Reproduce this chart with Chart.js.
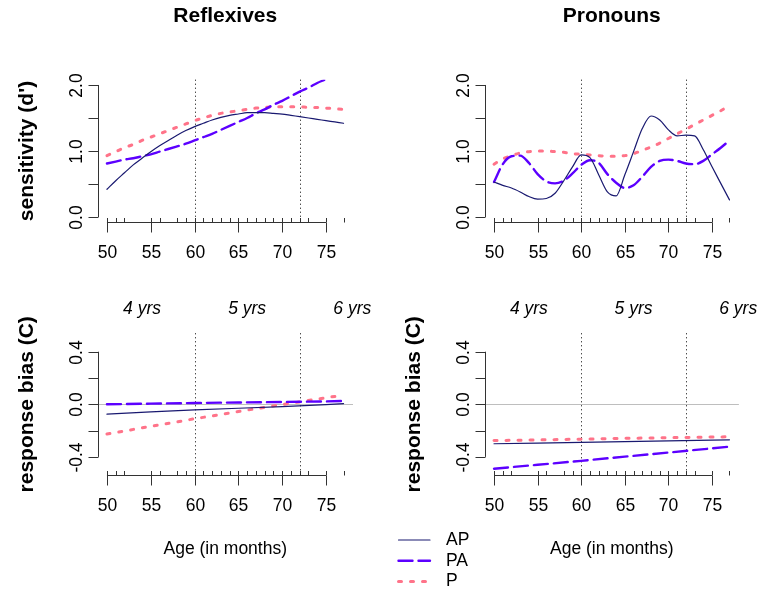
<!DOCTYPE html>
<html>
<head>
<meta charset="utf-8">
<script src="https://cdn.jsdelivr.net/npm/chart.js@4"></script>
<style>
    html, body { margin: 0; padding: 0; background: #fff; }
    #wrap { position: relative; width: 757px; height: 592px; }
    #wrap canvas { position: absolute; left: 0; top: 0; width: 757px; height: 592px; }
</style>
</head>
<body>
<div id="wrap">
    <canvas id="reflSens" width="757" height="592"></canvas>
    <canvas id="pronSens" width="757" height="592"></canvas>
    <canvas id="reflBias" width="757" height="592"></canvas>
    <canvas id="pronBias" width="757" height="592"></canvas>
</div>
<script>
// ==================== 数据 ====================

// 月龄（敏感度曲线）
const ages = [50, 51, 52, 53, 54, 55, 56, 57, 58, 59, 60, 61, 62, 63,
              64, 65, 66, 67, 68, 69, 70, 71, 72, 73, 74, 75, 76, 77];

// Reflexives - sensitivity (d')
const reflSensAP = [0.42, 0.55, 0.67, 0.79, 0.89, 0.99, 1.08, 1.16, 1.24, 1.31, 1.37, 1.42, 1.47, 1.51,
                    1.54, 1.56, 1.58, 1.58, 1.58, 1.57, 1.56, 1.54, 1.52, 1.50, 1.48, 1.46, 1.44, 1.42];
const reflSensPA = [0.81, 0.84, 0.87, 0.89, 0.92, 0.95, 0.99, 1.03, 1.07, 1.11, 1.16, 1.21, 1.26, 1.32,
                    1.38, 1.44, 1.50, 1.57, 1.63, 1.70, 1.76, 1.83, 1.90, 1.96, 2.03, 2.09, 2.16, 2.23];
const reflSensP  = [0.93, 0.99, 1.05, 1.10, 1.16, 1.21, 1.26, 1.31, 1.36, 1.41, 1.46, 1.50, 1.54, 1.57,
                    1.59, 1.61, 1.63, 1.65, 1.66, 1.67, 1.67, 1.67, 1.67, 1.66, 1.66, 1.65, 1.64, 1.63];

// Pronouns - sensitivity (d')
const pronSensAP = [0.53, 0.48, 0.44, 0.38, 0.31, 0.27, 0.28, 0.36, 0.55, 0.76, 0.94, 0.90, 0.64, 0.38,
                    0.32, 0.64, 0.99, 1.34, 1.53, 1.47, 1.32, 1.23, 1.24, 1.23, 1.02, 0.76, 0.51, 0.26];
const pronSensPA = [0.53, 0.80, 0.92, 0.93, 0.82, 0.65, 0.54, 0.51, 0.55, 0.66, 0.79, 0.86, 0.82, 0.65,
                    0.52, 0.44, 0.48, 0.61, 0.76, 0.85, 0.87, 0.85, 0.81, 0.80, 0.85, 0.95, 1.05, 1.16];
const pronSensP  = [0.80, 0.88, 0.93, 0.97, 0.99, 1.00, 1.00, 0.99, 0.98, 0.96, 0.95, 0.94, 0.93, 0.92,
                    0.92, 0.93, 0.96, 1.01, 1.06, 1.12, 1.19, 1.26, 1.33, 1.40, 1.47, 1.54, 1.61, 1.69];

// 月龄（反应偏差直线）
const biasAges = [50, 55, 60, 65, 70, 75, 77];

// Reflexives - response bias (C)
const reflBiasAP = [-0.075, -0.058, -0.043, -0.030, -0.017, -0.003, 0.005];
const reflBiasPA = [0.000, 0.005, 0.010, 0.014, 0.018, 0.022, 0.025];
const reflBiasP  = [-0.226, -0.168, -0.110, -0.055, -0.002, 0.050, 0.070];

// Pronouns - response bias (C)
const pronBiasAP = [-0.300, -0.295, -0.290, -0.284, -0.278, -0.272, -0.270];
const pronBiasPA = [-0.490, -0.460, -0.430, -0.398, -0.367, -0.335, -0.322];
const pronBiasP  = [-0.276, -0.271, -0.265, -0.259, -0.254, -0.249, -0.247];

// 被试月龄（底部 rug 刻度）
const rugAges = [50, 51, 52, 55, 56, 58, 59, 60, 61, 62, 63, 64, 65, 66, 67, 68, 69, 70, 71, 72, 73, 75, 77];

// 坐标刻度
const xTicks = [50, 55, 60, 65, 70, 75];
const sensTicks = [0, 0.5, 1, 1.5, 2];
const sensTickLabels = ['0.0', '', '1.0', '', '2.0'];
const biasTicks = [-0.4, -0.2, 0, 0.2, 0.4];
const biasTickLabels = ['-0.4', '', '0.0', '', '0.4'];

// 年龄分界线与标注
const cutoffs = [60, 72];
const yearMarks = [54, 66, 78];
const yearLabels = ['4 yrs', '5 yrs', '6 yrs'];

const seriesNames = ['AP', 'PA', 'P'];

// ==================== 样式 ====================

const W = 757, H = 592;
const FONT = '"Liberation Sans", Arial, Helvetica, sans-serif';
const COLORS = { AP: '#191970', PA: '#5c00ff', P: '#ff7389' };
const STYLE = {
    AP: { width: 1.2, dash: [] },
    PA: { width: 2.4, dash: [14, 6] },
    P:  { width: 3, dash: [3, 9] }
};

const LEFT = { left: 97.5, right: 353 };
const RIGHT = { left: 484.6, right: 738.9 };
const TOP = { top: 79.7, bottom: 222.3 };
const BOTTOM = { top: 333.3, bottom: 475.3 };

function makeSeries(name, xs, ys, smooth) {
    return {
        label: name,
        data: xs.map((a, i) => ({ x: a, y: ys[i] })),
        borderColor: COLORS[name],
        borderWidth: STYLE[name].width,
        borderDash: STYLE[name].dash,
        borderCapStyle: 'round',
        pointRadius: 0,
        fill: false,
        clip: 0,
        cubicInterpolationMode: smooth ? 'monotone' : 'default',
        tension: 0
    };
}

function strokeLine(ctx, x0, y0, x1, y1) {
    ctx.beginPath();
    ctx.moveTo(x0, y0);
    ctx.lineTo(x1, y1);
    ctx.stroke();
}

// R 风格坐标轴、标题、分界线
const rPanel = {
    id: 'rPanel',
    beforeDatasetsDraw(chart, args, opts) {
        const { ctx, chartArea: a, scales: { x, y } } = chart;
        ctx.save();
        ctx.lineWidth = 1;
        if (opts.zeroLine) {
            ctx.strokeStyle = '#bebebe';
            const py = Math.round(y.getPixelForValue(0)) + 0.5;
            strokeLine(ctx, a.left, py, a.right, py);
        }
        ctx.strokeStyle = '#000';
        ctx.setLineDash([1, 3]);
        cutoffs.forEach(v => {
            const px = Math.round(x.getPixelForValue(v)) + 0.5;
            strokeLine(ctx, px, a.top, px, a.bottom);
        });
        ctx.restore();
    },
    afterDraw(chart, args, opts) {
        const { ctx, chartArea: a, scales: { x, y } } = chart;
        ctx.save();
        ctx.strokeStyle = '#333';
        ctx.fillStyle = '#000';
        ctx.lineWidth = 1;

        // x 轴
        const yb = Math.round(a.bottom) + 0.5;
        strokeLine(ctx, x.getPixelForValue(xTicks[0]), yb, x.getPixelForValue(xTicks[xTicks.length - 1]), yb);
        ctx.font = '17.5px ' + FONT;
        ctx.textAlign = 'center';
        ctx.textBaseline = 'middle';
        xTicks.forEach(t => {
            const px = Math.round(x.getPixelForValue(t)) + 0.5;
            strokeLine(ctx, px, yb, px, yb + 10);
            ctx.fillText(String(t), px, a.bottom + 31);
        });
        // rug
        rugAges.forEach(t => {
            const px = Math.round(x.getPixelForValue(t)) + 0.5;
            strokeLine(ctx, px, yb, px, yb - 4.5);
        });

        // y 轴
        const xl = Math.round(a.left) + 0.5;
        strokeLine(ctx, xl, y.getPixelForValue(opts.yTicks[0]), xl, y.getPixelForValue(opts.yTicks[opts.yTicks.length - 1]));
        opts.yTicks.forEach((t, i) => {
            const py = Math.round(y.getPixelForValue(t)) + 0.5;
            strokeLine(ctx, xl, py, xl - 10, py);
            if (opts.yTickLabels[i]) {
                ctx.save();
                ctx.translate(a.left - 16, py);
                ctx.rotate(-Math.PI / 2);
                ctx.textBaseline = 'alphabetic';
                ctx.fillText(opts.yTickLabels[i], 0, 0);
                ctx.restore();
            }
        });

        const cx = (a.left + a.right) / 2;
        ctx.font = 'bold 21px ' + FONT;
        if (opts.title) {
            ctx.fillText(opts.title, cx, 16);
        }
        if (opts.ylab) {
            ctx.save();
            ctx.translate(a.left - 70, (a.top + a.bottom) / 2);
            ctx.rotate(-Math.PI / 2);
            ctx.fillText(opts.ylab, 0, 0);
            ctx.restore();
        }

        ctx.font = '17.5px ' + FONT;
        if (opts.xlab) {
            ctx.fillText(opts.xlab, cx, 549);
        }
        if (opts.years) {
            ctx.font = 'italic 17.5px ' + FONT;
            yearMarks.forEach((m, i) => ctx.fillText(yearLabels[i], x.getPixelForValue(m), 309));
        }

        // 图例
        if (opts.legend) {
            ctx.font = '17.5px ' + FONT;
            ctx.textAlign = 'left';
            seriesNames.forEach((name, i) => {
                const ly = 540 + i * 20.8;
                ctx.save();
                ctx.strokeStyle = COLORS[name];
                ctx.lineWidth = STYLE[name].width;
                ctx.setLineDash(STYLE[name].dash);
                ctx.lineCap = 'round';
                strokeLine(ctx, 398.5, ly, 430, ly);
                ctx.restore();
                ctx.fillText(name, 446, ly);
            });
        }
        ctx.restore();
    }
};

function makePanel(id, hBox, vBox, yMin, yMax, datasets, panelOpts) {
    return new Chart(document.getElementById(id), {
        type: 'line',
        data: { datasets },
        options: {
            responsive: false,
            animation: false,
            devicePixelRatio: 1,
            events: [],
            layout: {
                padding: { left: hBox.left, right: W - hBox.right, top: vBox.top, bottom: H - vBox.bottom }
            },
            scales: {
                x: { type: 'linear', min: 48.92, max: 78.08, display: false },
                y: { type: 'linear', min: yMin, max: yMax, display: false }
            },
            plugins: {
                legend: { display: false },
                tooltip: { enabled: false },
                rPanel: panelOpts
            }
        },
        plugins: [rPanel]
    });
}

makePanel('reflSens', LEFT, TOP, -0.08, 2.08, [
    makeSeries('AP', ages, reflSensAP, true),
    makeSeries('PA', ages, reflSensPA, true),
    makeSeries('P', ages, reflSensP, true)
], { title: 'Reflexives', ylab: "sensitivity (d')", yTicks: sensTicks, yTickLabels: sensTickLabels });

makePanel('pronSens', RIGHT, TOP, -0.08, 2.08, [
    makeSeries('AP', ages, pronSensAP, true),
    makeSeries('PA', ages, pronSensPA, true),
    makeSeries('P', ages, pronSensP, true)
], { title: 'Pronouns', yTicks: sensTicks, yTickLabels: sensTickLabels });

makePanel('reflBias', LEFT, BOTTOM, -0.54, 0.54, [
    makeSeries('AP', biasAges, reflBiasAP, false),
    makeSeries('PA', biasAges, reflBiasPA, false),
    makeSeries('P', biasAges, reflBiasP, false)
], { ylab: 'response bias (C)', xlab: 'Age (in months)', yTicks: biasTicks, yTickLabels: biasTickLabels,
     zeroLine: true, years: true, legend: true });

makePanel('pronBias', RIGHT, BOTTOM, -0.54, 0.54, [
    makeSeries('AP', biasAges, pronBiasAP, false),
    makeSeries('PA', biasAges, pronBiasPA, false),
    makeSeries('P', biasAges, pronBiasP, false)
], { ylab: 'response bias (C)', xlab: 'Age (in months)', yTicks: biasTicks, yTickLabels: biasTickLabels,
     zeroLine: true, years: true });
</script>
</body>
</html>
